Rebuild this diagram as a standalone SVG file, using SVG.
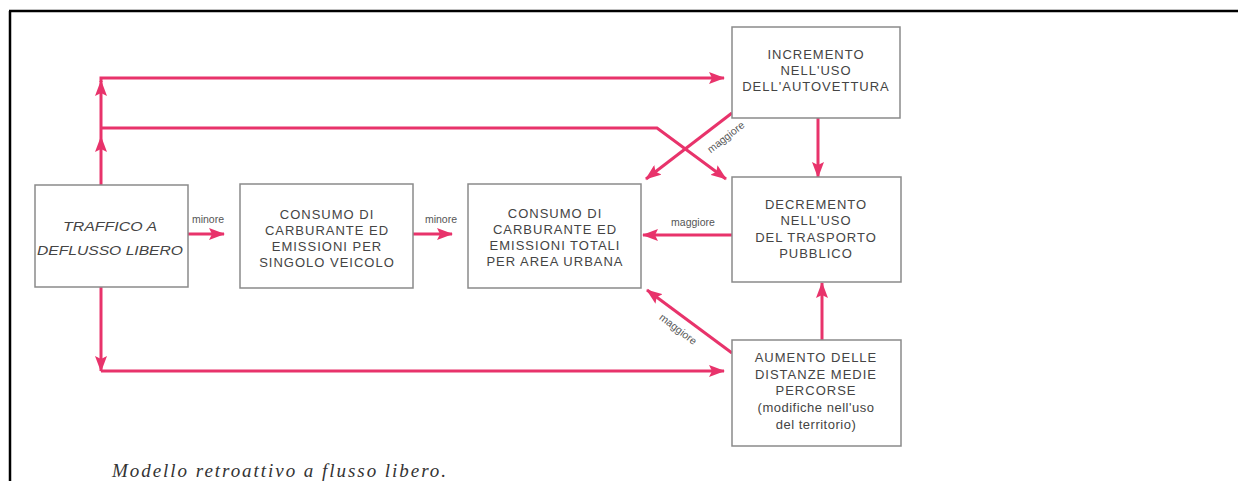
<svg xmlns="http://www.w3.org/2000/svg" width="1238" height="481" viewBox="0 0 1238 481">
<style>
.box{fill:#fff;stroke:#8a8a8a;stroke-width:1.5}
.t{font-family:"Liberation Sans",Arial,sans-serif;font-size:13px;fill:#444;text-anchor:middle;letter-spacing:1px}
.ti{font-family:"Liberation Sans",Arial,sans-serif;font-size:13px;fill:#444;text-anchor:middle;font-style:italic}
.lb{font-family:"Liberation Sans",Arial,sans-serif;font-size:10.5px;fill:#555;text-anchor:middle}
.c{fill:none;stroke:#e8336b;stroke-width:3}
.cap{font-family:"Liberation Serif","Times New Roman",serif;font-size:19px;font-style:italic;fill:#333}
</style>
<defs>
<marker id="ah" markerUnits="userSpaceOnUse" markerWidth="16" markerHeight="12" refX="15" refY="6" orient="auto">
<path d="M0,0 L16,6 L0,12 L3,6 Z" fill="#e8336b"/>
</marker>
</defs>
<rect x="0" y="0" width="1238" height="481" fill="#fff"/>
<g id="frame" stroke="#000" stroke-width="2.5" fill="none">
<line x1="10" y1="11" x2="10" y2="481"/>
<line x1="9" y1="11" x2="1238" y2="11"/>
</g>
<g id="connectors">
<path class="c" d="M101,185 L101,137" marker-end="url(#ah)"/>
<path class="c" d="M101,137 L101,81" marker-end="url(#ah)"/>
<path class="c" d="M101,82 L101,78 L724,78" marker-end="url(#ah)"/>
<path class="c" d="M101,128 L657,128 L726,179" marker-end="url(#ah)"/>
<path class="c" d="M732,113 L646,179" marker-end="url(#ah)"/>
<path class="c" d="M818,118 L818,177" marker-end="url(#ah)"/>
<path class="c" d="M732,235 L643,235" marker-end="url(#ah)"/>
<path class="c" d="M188,234 L224,234" marker-end="url(#ah)"/>
<path class="c" d="M413,234 L452,234" marker-end="url(#ah)"/>
<path class="c" d="M101,287 L101,371" marker-end="url(#ah)"/>
<path class="c" d="M101,371 L724,371" marker-end="url(#ah)"/>
<path class="c" d="M732,353 L647,290" marker-end="url(#ah)"/>
<path class="c" d="M822,340 L822,283" marker-end="url(#ah)"/>
<text class="lb" x="208" y="223">minore</text>
<text class="lb" x="441" y="223">minore</text>
<text class="lb" x="693" y="226">maggiore</text>
<text class="lb" transform="translate(728,140) rotate(-38)">maggiore</text>
<text class="lb" transform="translate(676,332) rotate(37)">maggiore</text>
</g>
<g id="n1">
<rect class="box" x="35" y="185" width="153" height="102"/>
<text class="ti" x="110" y="231" textLength="94" lengthAdjust="spacingAndGlyphs">TRAFFICO A</text>
<text class="ti" x="110" y="255" textLength="146" lengthAdjust="spacingAndGlyphs">DEFLUSSO LIBERO</text>
</g>
<g id="n2">
<rect class="box" x="240" y="184" width="173" height="104"/>
<text class="t" x="327" y="219">CONSUMO DI</text>
<text class="t" x="327" y="235">CARBURANTE ED</text>
<text class="t" x="327" y="251">EMISSIONI PER</text>
<text class="t" x="327" y="267">SINGOLO VEICOLO</text>
</g>
<g id="n3">
<rect class="box" x="468" y="184" width="173" height="104"/>
<text class="t" x="555" y="218">CONSUMO DI</text>
<text class="t" x="555" y="234">CARBURANTE ED</text>
<text class="t" x="555" y="250">EMISSIONI TOTALI</text>
<text class="t" x="555" y="266">PER AREA URBANA</text>
</g>
<g id="n4">
<rect class="box" x="732" y="27" width="168" height="91"/>
<text class="t" x="816" y="59">INCREMENTO</text>
<text class="t" x="816" y="75">NELL'USO</text>
<text class="t" x="816" y="91">DELL'AUTOVETTURA</text>
</g>
<g id="n5">
<rect class="box" x="732" y="177" width="169" height="105"/>
<text class="t" x="816" y="209">DECREMENTO</text>
<text class="t" x="816" y="225">NELL'USO</text>
<text class="t" x="816" y="242">DEL TRASPORTO</text>
<text class="t" x="816" y="258">PUBBLICO</text>
</g>
<g id="n6">
<rect class="box" x="732" y="340" width="169" height="106"/>
<text class="t" x="816" y="362">AUMENTO DELLE</text>
<text class="t" x="816" y="379">DISTANZE MEDIE</text>
<text class="t" x="816" y="395">PERCORSE</text>
<text class="t" x="816" y="412" style="letter-spacing:0.5px">(modifiche nell'uso</text>
<text class="t" x="816" y="429" style="letter-spacing:0.5px">del territorio)</text>
</g>
<text class="cap" x="112" y="477" textLength="334" lengthAdjust="spacing">Modello retroattivo a flusso libero.</text>
</svg>
